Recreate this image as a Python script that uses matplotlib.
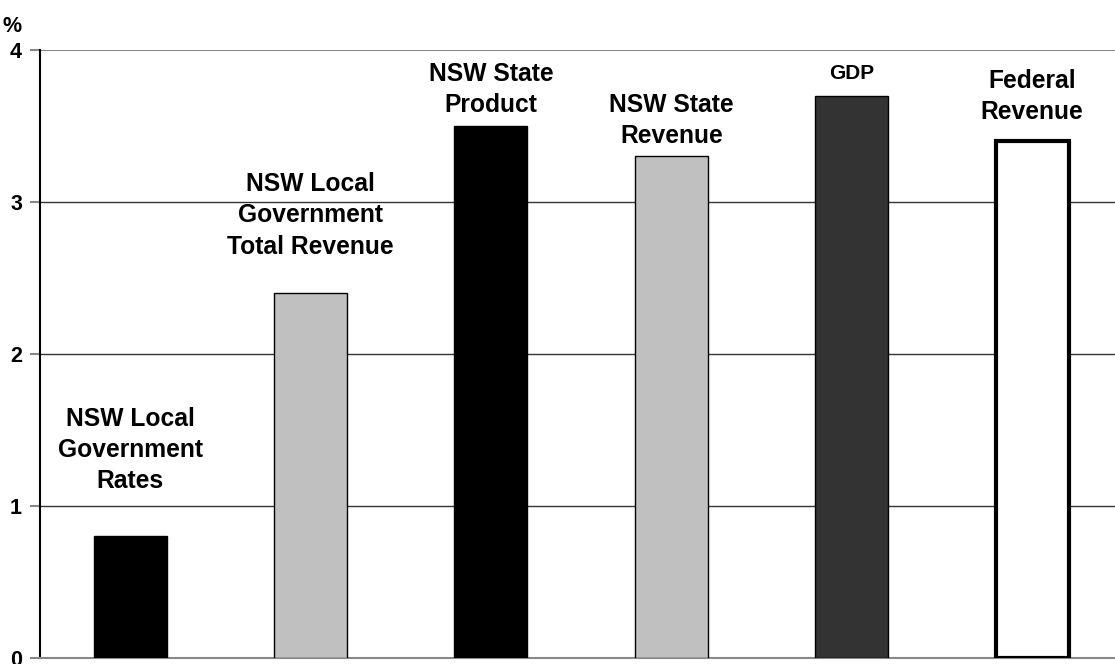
import matplotlib.pyplot as plt

plt.rcParams['font.family'] = ['Liberation Sans', 'DejaVu Sans']

labels = ["NSW Local\nGovernment\nRates",
          "NSW Local\nGovernment\nTotal Revenue",
          "NSW State\nProduct",
          "NSW State\nRevenue",
          "GDP",
          "Federal\nRevenue"]
values = [0.8, 2.4, 3.5, 3.3, 3.7, 3.4]
colors = ["#000000", "#c0c0c0", "#000000", "#c0c0c0", "#333333", "#ffffff"]
yticks = [0, 1, 2, 3, 4]

fig = plt.figure(figsize=(11.15, 6.64), dpi=100)
ax = fig.add_axes([40 / 1115, 6 / 664, 1075 / 1115, 608 / 664])

x = range(len(values))
bars = ax.bar(x, values, width=0.405, color=colors, edgecolor="black", linewidth=1, zorder=3)
bars[-1].set_linewidth(3)

# gap between bar top and label baseline (data units)
gaps = [0.316, 0.26, 0.09, 0.09, 0.11, 0.145]
for i, (lab, v) in enumerate(zip(labels, values)):
    ax.text(i, v + gaps[i], lab, ha="center", va="baseline", fontweight="bold",
            fontsize=15 if lab == "GDP" else 17.7, linespacing=1.38, zorder=4)

ax.set_xlim(-0.5, 5.46)
ax.set_ylim(0, 4)
ax.set_yticks(yticks)
ax.set_yticklabels([str(t) for t in yticks], fontweight="bold", fontsize=15.5)
ax.set_xticks([])

for t in [1, 2, 3]:
    ax.axhline(t, color="#333333", lw=1, zorder=1)
ax.axhline(4, color="#888888", lw=1.5, zorder=1)

for s in ["top", "right"]:
    ax.spines[s].set_visible(False)
ax.spines["bottom"].set_color("#888888")
ax.spines["bottom"].set_linewidth(1.5)
ax.spines["left"].set_linewidth(1.5)
ax.tick_params(axis="y", length=7, color="#888888", width=1.5, pad=6)

fig.text(0.002, 1 - 27 / 664, "%", fontweight="bold", fontsize=15.5, va="center", ha="left")

fig.savefig("out.png")
